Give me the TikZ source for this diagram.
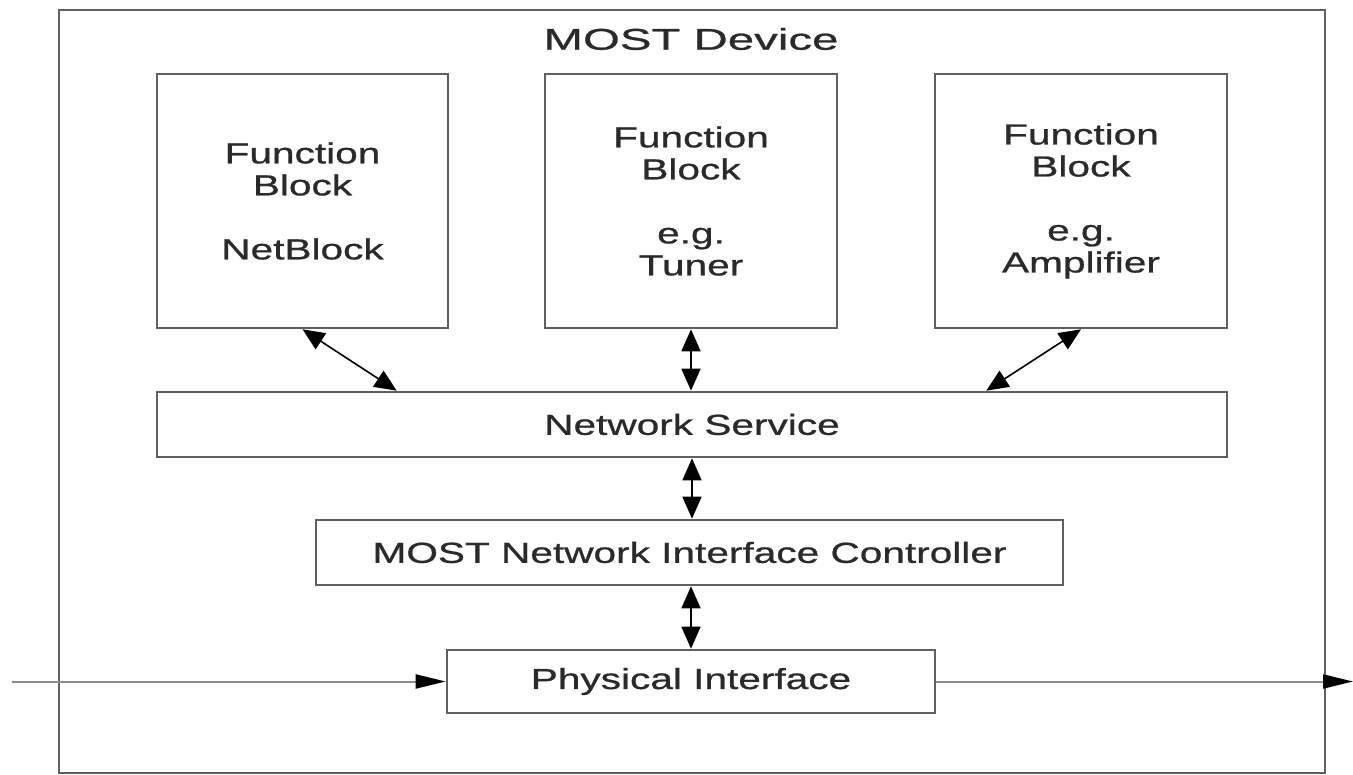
\documentclass[tikz,border=0pt]{standalone}
\usepackage{fontspec}
\setmainfont{Liberation Sans}[FakeStretch=1.4,FakeBold=0.8]
\newfontfamily\titlefont{Liberation Sans}[FakeStretch=1.58,FakeBold=0.8]
\usetikzlibrary{arrows.meta,calc}
\definecolor{boxline}{HTML}{606060}
\definecolor{wireline}{HTML}{8C8C8C}
\definecolor{labeltext}{HTML}{2A2A2A}
\begin{document}
\begin{tikzpicture}[x=1pt,y=-1pt,
  block/.style={draw=boxline,line width=2.6pt,fill=white,inner sep=0pt,
    align=center,text=labeltext,font=\fontsize{29}{32}\selectfont},
  biarrow/.style={line width=1.6pt,{Triangle[length=22pt,width=19pt]}-{Triangle[length=22pt,width=19pt]}},
  wire/.style={draw=wireline,line width=2pt,-{Triangle[length=30pt,width=14pt,color=black]}}]
  \useasboundingbox (0,0) rectangle (1353,775);

  % enclosing device frame and its title
  \node[draw=boxline,line width=2.6pt,minimum width=1266pt,minimum height=763pt,inner sep=0pt]
    (dev) at (692,391.5) {};
  \node[text=labeltext,font=\titlefont\fontsize{30}{32}\selectfont] (title) at (691,39) {MOST Device};

  % function blocks
  \node[block,minimum width=291pt,minimum height=254pt] (fb1) at (302.5,201)
    {Function\\Block\\[32pt]NetBlock};
  \node[block,minimum width=292pt,minimum height=254pt] (fb2) at (691,201)
    {Function\\Block\\[32pt]e.g.\\Tuner};
  \node[block,minimum width=292pt,minimum height=254pt] (fb3) at (1081,201)
    {Function\\Block\\[32pt]e.g.\\Amplifier};

  % service layers
  \node[block,minimum width=1070pt,minimum height=65pt] (ns) at (692,424.5) {Network Service};
  \node[block,minimum width=747pt,minimum height=65pt] (nic) at (689.5,552.5)
    {MOST Network Interface Controller};
  \node[block,minimum width=488pt,minimum height=63pt] (phy) at (691,681.5) {Physical Interface};

  % bus line entering and leaving the device
  \coordinate (busin) at (12,681.5);
  \coordinate (busout) at (1353,681.5);
  \draw[wire] (busin) -- (phy.west);
  \draw[wire] (phy.east) -- (busout);

  % bidirectional links between layers
  \draw[biarrow] (fb1.south) -- ([xshift=241pt]ns.north west);
  \draw[biarrow] (fb2.south) -- (fb2.south |- ns.north);
  \draw[biarrow] (fb3.south) -- ([xshift=-242pt]ns.north east);
  \draw[biarrow] (ns.south) -- (ns.south |- nic.north);
  \draw[biarrow] (phy.north |- nic.south) -- (phy.north);
\end{tikzpicture}
\end{document}
